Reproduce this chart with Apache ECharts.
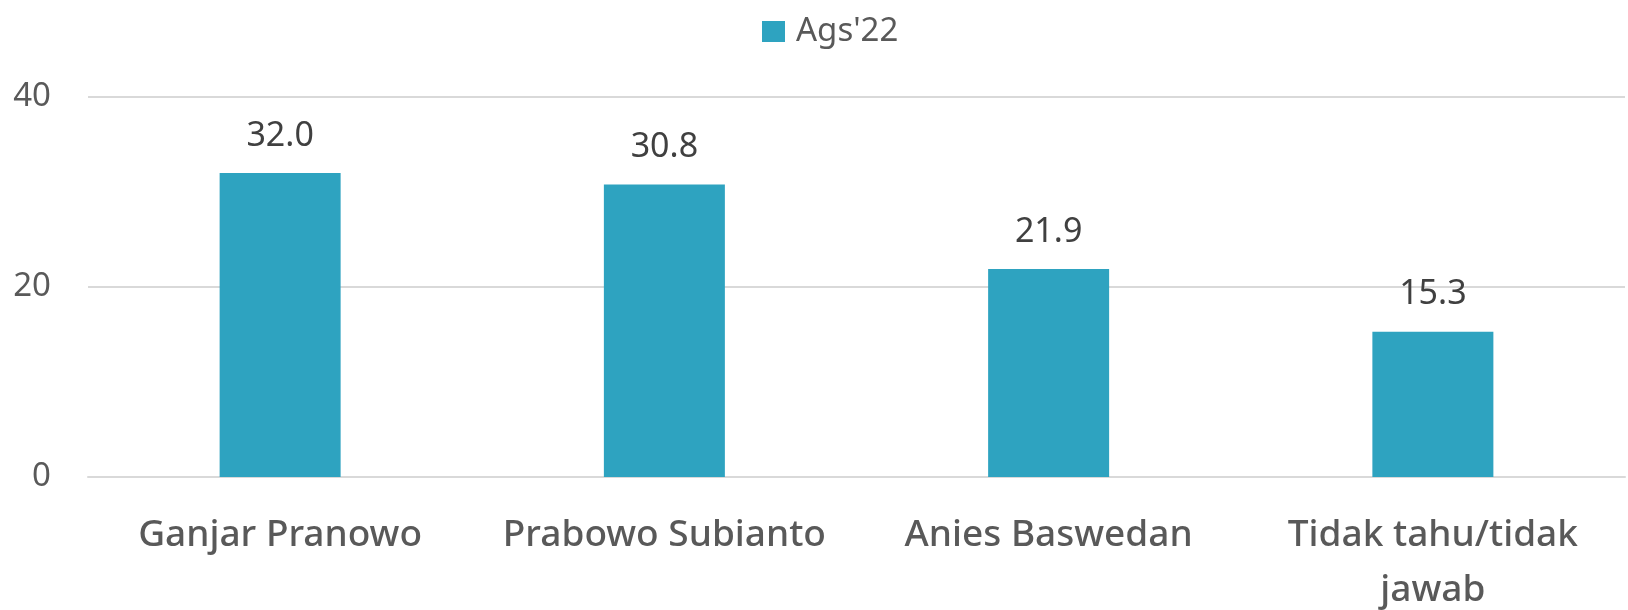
<!DOCTYPE html>
<html>
<head>
<meta charset="utf-8">
<script src="https://cdn.jsdelivr.net/npm/echarts@6/dist/echarts.min.js"></script>
<style>html,body{margin:0;padding:0;background:#fff}#c{width:1628px;height:610px}</style>
</head>
<body>
<div id="c"></div>
<script>
const categories = ["Ganjar Pranowo", "Prabowo Subianto", "Anies Baswedan", "Tidak tahu/tidak\njawab"];
const seriesName = "Ags'22";
const values = [32.0, 30.8, 21.9, 15.3];
const yTicks = [0, 20, 40];

const chart = echarts.init(document.getElementById('c'));
chart.setOption({
  animation: false,
  textStyle: { fontFamily: 'Noto Sans' },
  legend: {
    top: 10, left: 757,
    itemWidth: 23, itemHeight: 21, itemGap: 10,
    icon: 'rect',
    textStyle: { fontSize: 33, color: '#595959', fontFamily: 'Noto Sans', padding: [0, 0, 0, 6] },
    data: [seriesName]
  },
  grid: { left: 88, right: 3, top: 97, bottom: 133, containLabel: false, outerBoundsMode: 'none' },
  xAxis: {
    type: 'category',
    data: categories,
    axisTick: { show: false },
    axisLine: { lineStyle: { color: '#d9d9d9', width: 2 } },
    axisLabel: { fontSize: 37, fontWeight: 500, color: '#595959', margin: 31, lineHeight: 55, interval: 0 }
  },
  yAxis: {
    type: 'value',
    min: yTicks[0], max: yTicks[yTicks.length - 1], interval: 20,
    axisLine: { show: false },
    axisTick: { show: false },
    splitLine: { lineStyle: { color: '#d9d9d9', width: 2 } },
    axisLabel: { fontSize: 33, color: '#595959', margin: 37 }
  },
  series: [{
    name: seriesName,
    type: 'bar',
    data: values,
    barWidth: 121,
    itemStyle: { color: '#2ea3c0' },
    label: {
      show: true, position: 'top', distance: 20,
      fontSize: 34, color: '#404040',
      formatter: p => p.value.toFixed(1)
    }
  }]
});
</script>
</body>
</html>
